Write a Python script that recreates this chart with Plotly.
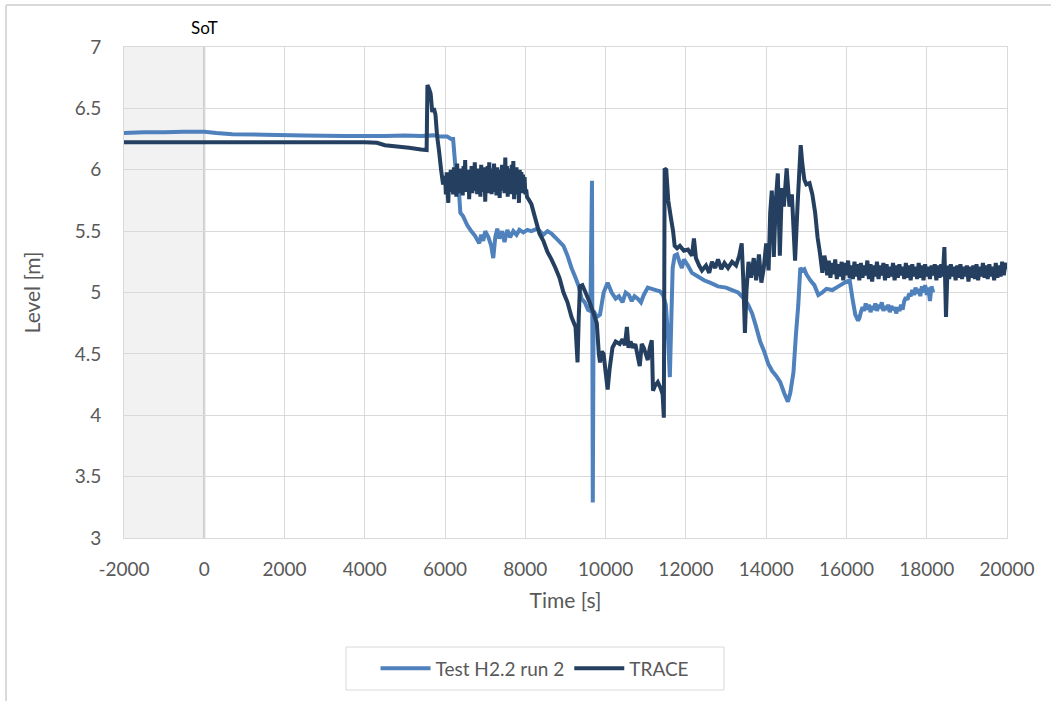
import plotly.graph_objects as go

# ---- Data ----
test_t = [-2000, -1500, -1000, -500, -100, 0, 300, 700, 1500, 2500, 3500, 4500, 5000, 5400, 5700, 5900,
          6050, 6150, 6200, 6250, 6280, 6330, 6380, 6450, 6550, 6650, 6750, 6850, 6900, 6950, 7000, 7080,
          7150, 7200, 7250, 7300, 7350, 7420, 7480, 7550, 7620, 7700, 7780, 7850, 7950, 8050, 8150, 8300,
          8450, 8550, 8650, 8800, 8950, 9050, 9150, 9250, 9330, 9400, 9480, 9560, 9620, 9660, 9680, 9700,
          9780, 9860, 9950, 10050, 10150, 10250, 10330, 10420, 10500, 10580, 10650, 10720, 10800, 10880,
          10950, 11050, 11150, 11250, 11350, 11430, 11500, 11560, 11600, 11630, 11670, 11720, 11780, 11850,
          11900, 11950, 12050, 12150, 12300, 12450, 12600, 12800, 13000, 13150, 13300, 13450, 13550, 13650,
          13750, 13850, 13950, 14050, 14150, 14250, 14350, 14450, 14540, 14600, 14680, 14740, 14800, 14850,
          14900, 14950, 15000, 15100, 15200, 15300, 15400, 15500, 15650, 15800, 15950, 16080, 16150, 16220,
          16290,
          16320, 16360, 16400, 16440, 16480, 16520, 16560, 16600, 16640, 16680,
          16720, 16760, 16800, 16840, 16880, 16920, 16960, 17000, 17040, 17080,
          17120, 17160, 17200, 17240, 17280, 17320, 17360, 17400, 17440, 17480,
          17520, 17560, 17600, 17640, 17680, 17720, 17760, 17800, 17840, 17880,
          17920, 17960, 18000, 18040, 18080, 18120, 18160]
test_v = [6.30, 6.305, 6.305, 6.31, 6.31, 6.31, 6.30, 6.29, 6.285, 6.28, 6.275, 6.275, 6.28, 6.275, 6.28, 6.27,
          6.27, 6.25, 6.25, 6.05, 5.95, 5.90, 5.65, 5.62, 5.55, 5.50, 5.46, 5.40, 5.47, 5.42, 5.50, 5.45,
          5.38, 5.28, 5.45, 5.52, 5.44, 5.50, 5.41, 5.51, 5.45, 5.50, 5.47, 5.51, 5.49, 5.51, 5.50, 5.52,
          5.47, 5.50, 5.48, 5.43, 5.38, 5.30, 5.20, 5.12, 5.05, 4.95, 4.92, 4.86, 4.85, 5.91, 3.29, 4.85,
          4.80, 4.82, 5.00, 5.08, 5.00, 4.95, 4.97, 4.92, 5.00, 4.98, 4.93, 4.97, 4.95, 4.92,
          4.98, 5.04, 5.03, 5.02, 5.01, 4.98, 4.90, 4.60, 4.31, 4.70, 5.20, 5.30, 5.31, 5.24,
          5.20, 5.27, 5.22, 5.16, 5.13, 5.10, 5.08, 5.05, 5.04, 5.02, 5.00, 4.95, 4.90, 4.83,
          4.72, 4.60, 4.52, 4.42, 4.36, 4.32, 4.27, 4.18, 4.11, 4.18, 4.35, 4.65, 4.90, 5.20,
          5.18, 5.19, 5.15, 5.10, 5.06, 4.98, 5.00, 5.03, 5.02, 5.05, 5.08, 5.10, 4.95, 4.82,
          4.77,
          4.79, 4.84, 4.88, 4.85, 4.91, 4.86, 4.90, 4.84, 4.89, 4.86,
          4.91, 4.85, 4.90, 4.87, 4.92, 4.85, 4.89, 4.86, 4.90, 4.84,
          4.89, 4.86, 4.88, 4.83, 4.88, 4.85, 4.90, 4.86, 4.93, 4.96,
          4.94, 4.99, 4.97, 5.02, 4.98, 5.04, 4.99, 5.03, 4.97, 5.05,
          5.00, 5.06, 4.98, 5.04, 4.93, 5.05, 5.00]

trace_t = [-2000, 0, 2000, 4000, 4300, 4500, 4800, 5100, 5400, 5540, 5560, 5600, 5640, 5680, 5720, 5760,
           5800, 5850, 5900, 5950,
           6000, 6020, 6040, 6060, 6080, 6100, 6120, 6140, 6160, 6180,
           6200, 6220, 6240, 6260, 6280, 6300, 6320, 6340, 6360, 6380,
           6400, 6420, 6440, 6460, 6480, 6500, 6520, 6540, 6560, 6580,
           6600, 6620, 6640, 6660, 6680, 6700, 6720, 6740, 6760, 6780,
           6800, 6820, 6840, 6860, 6880, 6900, 6920, 6940, 6960, 6980,
           7000, 7020, 7040, 7060, 7080, 7100, 7120, 7140, 7160, 7180,
           7200, 7220, 7240, 7260, 7280, 7300, 7320, 7340, 7360, 7380,
           7400, 7420, 7440, 7460, 7480, 7500, 7520, 7540, 7560, 7580,
           7600, 7620, 7640, 7660, 7680, 7700, 7720, 7740, 7760, 7780,
           7800, 7820, 7840, 7860, 7880, 7900, 7920, 7940, 7960, 7980,
           8000, 8020, 8040,
           8080, 8150, 8250, 8350, 8450, 8550, 8650, 8750, 8850, 8950, 9050, 9150,
           9250, 9300, 9330, 9360, 9420, 9500, 9600, 9700, 9780, 9830, 9860, 9900, 9950, 10000, 10050,
           10100, 10170, 10250, 10350, 10420, 10480, 10530, 10570, 10620, 10680, 10740, 10800, 10850, 10900,
           10950, 11000, 11050, 11100, 11150, 11180, 11230, 11300, 11370, 11420, 11450, 11470, 11510, 11560,
           11620, 11680, 11720, 11780, 11850, 11950, 12050, 12150, 12200, 12250, 12330, 12400, 12500, 12580,
           12650, 12730, 12800, 12880, 12960, 13050, 13150, 13250, 13330, 13390, 13430, 13470, 13510, 13560,
           13620, 13690, 13750, 13820, 13880, 13940, 14000, 14060, 14100, 14140, 14190, 14240, 14290, 14340,
           14390, 14440, 14510, 14580, 14640, 14720, 14780, 14860, 14900, 14950, 15000, 15080, 15150, 15220,
           15280, 15340, 15400, 15450, 15500,
           15520, 15560, 15600, 15640, 15680, 15720, 15760, 15800, 15840, 15880,
           15920, 15960, 16000, 16040, 16080, 16120, 16160, 16200, 16240, 16280,
           16320, 16360, 16400, 16440, 16480, 16520, 16560, 16600, 16640, 16680,
           16720, 16760, 16800, 16840, 16880, 16920, 16960, 17000, 17040, 17080,
           17120, 17160, 17200, 17240, 17280, 17320, 17360, 17400, 17440, 17480,
           17520, 17560, 17600, 17640, 17680, 17720, 17760, 17800, 17840, 17880,
           17920, 17960, 18000, 18040, 18080, 18120, 18160, 18200, 18240, 18280,
           18320, 18360, 18400, 18440, 18480, 18520, 18560, 18600, 18640, 18680,
           18720, 18760, 18800, 18840, 18880, 18920, 18960, 19000, 19040, 19080,
           19120, 19160, 19200, 19240, 19280, 19320, 19360, 19400, 19440, 19480,
           19520, 19560, 19600, 19640, 19680, 19720, 19760, 19800, 19840, 19880,
           19920, 19960, 20000]
trace_v = [6.225, 6.225, 6.225, 6.225, 6.22, 6.20, 6.19, 6.18, 6.165, 6.16, 6.69, 6.66, 6.62, 6.47, 6.50, 6.45,
           6.28, 6.15, 6.00, 5.88,
           5.95, 5.80, 5.98, 5.84, 5.73, 5.96, 5.82, 6.00, 5.85, 5.97,
           5.80, 6.02, 5.83, 5.99, 5.78, 6.05, 5.84, 5.98, 5.81, 6.01,
           5.86, 5.96, 5.79, 6.03, 5.83, 6.08, 5.82, 5.99, 5.85, 6.00,
           5.76, 5.97, 5.84, 6.03, 5.81, 5.98, 5.86, 6.06, 5.83, 5.99,
           5.80, 6.01, 5.85, 5.97, 5.78, 6.04, 5.84, 6.00, 5.82, 6.02,
           5.74, 5.98, 5.85, 6.03, 5.81, 6.06, 5.84, 5.99, 5.80, 6.01,
           5.86, 6.05, 5.82, 5.98, 5.79, 6.02, 5.84, 5.97, 5.77, 6.00,
           5.83, 6.04, 5.85, 5.99, 5.81, 6.10, 5.83, 6.03, 5.78, 6.01,
           5.85, 5.98, 5.80, 6.04, 5.82, 6.07, 5.76, 5.99, 5.84, 6.02,
           5.80, 5.97, 5.73, 6.00, 5.83, 5.98, 5.81, 5.96, 5.85, 5.94,
           5.80, 5.84, 5.78,
           5.76, 5.72, 5.60, 5.48, 5.42, 5.33, 5.27, 5.20, 5.12, 5.00, 4.92, 4.80,
           4.72, 4.43, 4.80, 5.05, 5.06, 5.00, 4.92, 4.83, 4.75, 4.50, 4.43, 4.52, 4.50, 4.35, 4.21,
           4.38, 4.55, 4.60, 4.58, 4.62, 4.57, 4.72, 4.55, 4.60, 4.55, 4.58, 4.48, 4.40, 4.58,
           4.55, 4.50, 4.45, 4.55, 4.61, 4.20, 4.24, 4.27, 4.22, 4.17, 3.98, 6.01, 6.00, 5.75,
           5.62, 5.50, 5.38, 5.36, 5.38, 5.34, 5.35, 5.30, 5.44, 5.28, 5.22, 5.18, 5.22, 5.16,
           5.25, 5.20, 5.27, 5.19, 5.24, 5.20, 5.25, 5.22, 5.30, 5.40, 5.10, 4.67, 5.02, 5.25,
           5.12, 5.28, 5.10, 5.31, 5.08, 5.20, 5.40, 5.18, 5.65, 5.83, 5.29, 5.75, 5.97, 5.30,
           5.85, 5.70, 6.01, 5.70, 5.80, 5.26, 5.70, 6.20, 6.05, 5.92, 5.88, 5.89, 5.80, 5.65,
           5.45, 5.32, 5.16, 5.30, 5.22,
           5.14, 5.26, 5.12, 5.24, 5.15, 5.27, 5.11, 5.23, 5.13, 5.25,
           5.10, 5.24, 5.14, 5.26, 5.12, 5.22, 5.11, 5.25, 5.13, 5.23,
           5.10, 5.24, 5.12, 5.22, 5.14, 5.26, 5.11, 5.23, 5.09, 5.22,
           5.13, 5.25, 5.11, 5.22, 5.14, 5.24, 5.10, 5.23, 5.12, 5.21,
           5.13, 5.24, 5.10, 5.22, 5.12, 5.23, 5.14, 5.21, 5.11, 5.24,
           5.12, 5.22, 5.10, 5.23, 5.13, 5.21, 5.11, 5.24, 5.12, 5.22,
           5.10, 5.23, 5.13, 5.21, 5.11, 5.22, 5.14, 5.23, 5.10, 5.22,
           5.12, 5.23, 5.13, 5.37, 4.80, 5.22, 5.11, 5.23, 5.13, 5.21,
           5.10, 5.22, 5.12, 5.23, 5.11, 5.21, 5.13, 5.22, 5.09, 5.21,
           5.12, 5.22, 5.11, 5.23, 5.10, 5.21, 5.13, 5.24, 5.12, 5.22,
           5.11, 5.23, 5.13, 5.21, 5.10, 5.24, 5.12, 5.22, 5.13, 5.25,
           5.14, 5.24, 5.19]

x_ticks = [-2000, 0, 2000, 4000, 6000, 8000, 10000, 12000, 14000, 16000, 18000, 20000]
y_ticks = [3, 3.5, 4, 4.5, 5, 5.5, 6, 6.5, 7]
sot_time = 0
pre_start = -2000

LIGHT = "#4F81BD"
DARK = "#243F60"
GRID = "#D9D9D9"
TXT = "#595959"
FONT = "Lato"

fig = go.Figure()
fig.add_trace(go.Scatter(x=test_t, y=test_v, mode="lines", name="Test H2.2 run 2",
                         line=dict(color=LIGHT, width=4, simplify=False)))
fig.add_trace(go.Scatter(x=trace_t, y=trace_v, mode="lines", name="TRACE",
                         line=dict(color=DARK, width=4, simplify=False)))

shapes = [
    dict(type="rect", xref="x", yref="y", x0=pre_start, x1=sot_time, y0=3, y1=7,
         fillcolor="#F2F2F2", line=dict(width=0), layer="below"),
    dict(type="line", xref="x", yref="y", x0=sot_time, x1=sot_time, y0=3, y1=7,
         line=dict(color="#BFBFBF", width=2), layer="below"),
    # outer chart frame (partially visible)
    dict(type="line", xref="paper", yref="paper", x0=-0.1336, x1=1.06, y0=1.0855, y1=1.0855,
         line=dict(color="#D9D9D9", width=2)),
    dict(type="line", xref="paper", yref="paper", x0=-0.1336, x1=-0.1336, y0=1.0855, y1=-0.34,
         line=dict(color="#D9D9D9", width=2)),
    # legend box
    dict(type="rect", xref="paper", yref="paper", x0=0.2514, x1=0.6795, y0=-0.222, y1=-0.3096,
         line=dict(color=GRID, width=1), fillcolor="rgba(0,0,0,0)"),
]

fig.update_layout(
    width=1051, height=701,
    margin=dict(l=124, r=44, t=47, b=163),
    paper_bgcolor="white", plot_bgcolor="white",
    font=dict(family=FONT, color=TXT, size=19),
    showlegend=True,
    legend=dict(orientation="h", x=0.4655, xanchor="center", y=-0.2658, yanchor="middle",
                borderwidth=0, bgcolor="rgba(0,0,0,0)",
                font=dict(size=19, color=TXT, family=FONT), itemwidth=50),
    shapes=shapes,
    annotations=[dict(text="SoT", x=sot_time, xref="x", y=(538 - 28) / 491, yref="paper",
                      yanchor="middle", showarrow=False,
                      font=dict(size=17, color="black", family=FONT))],
    xaxis=dict(range=[-2000, 20000], tickvals=x_ticks, ticktext=[str(v) for v in x_ticks],
               showgrid=True, gridcolor=GRID, gridwidth=1, zeroline=False,
               showline=True, linecolor=GRID, linewidth=1, mirror=True,
               ticks="", ticklabelstandoff=14, tickfont=dict(size=19, color=TXT),
               title=dict(text="Time [s]", font=dict(size=21, color=TXT), standoff=14)),
    yaxis=dict(range=[3, 7], tickvals=y_ticks, ticktext=[f"{v:g}" for v in y_ticks],
               showgrid=True, gridcolor=GRID, gridwidth=1, zeroline=False,
               showline=True, linecolor=GRID, linewidth=1, mirror=True,
               ticks="", ticklabelstandoff=18, tickfont=dict(size=19, color=TXT),
               title=dict(text="Level [m]", font=dict(size=21, color=TXT), standoff=28)),
)
fig.write_html("out.html")
